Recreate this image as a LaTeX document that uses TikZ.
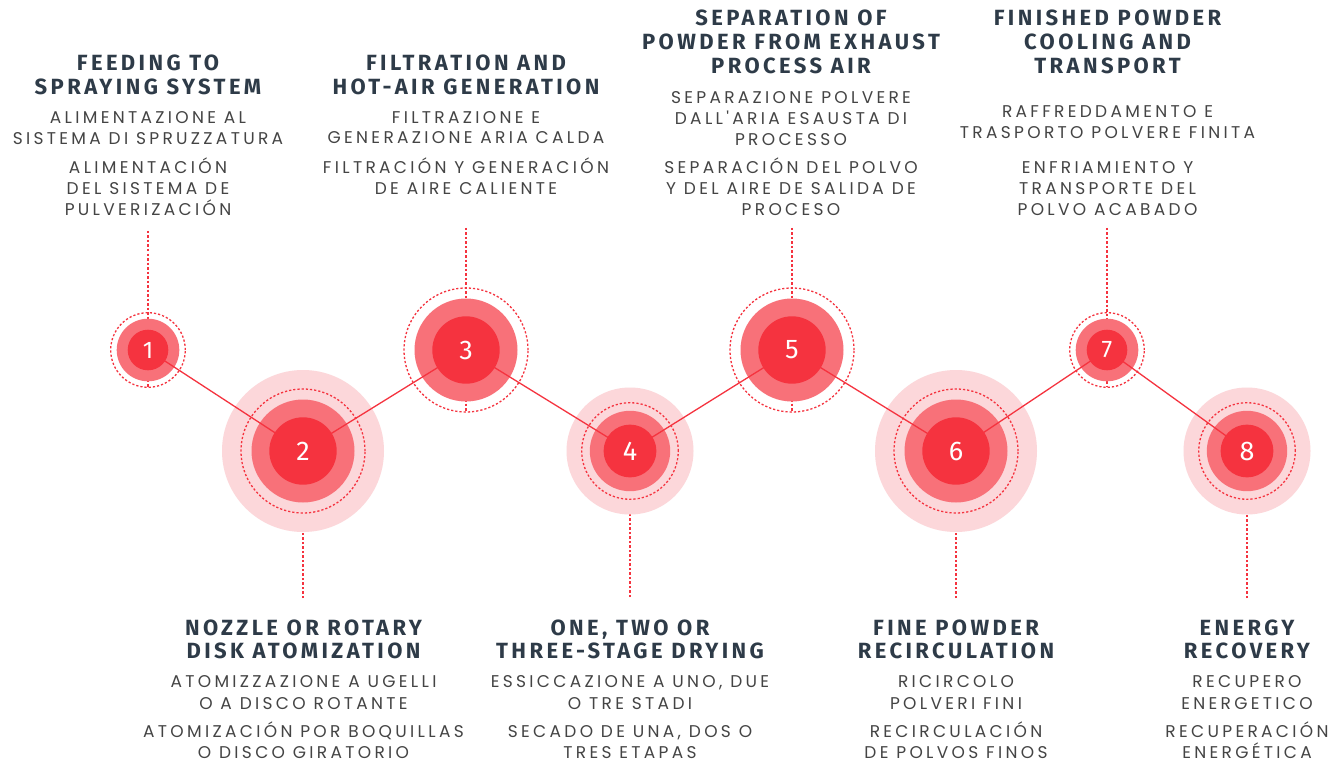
\documentclass[tikz,border=0pt]{standalone}
\usepackage{fontspec}
\setmainfont{Poppins}
\newfontfamily\headfont{Fira Sans}[LetterSpace=15.5]
\newfontfamily\subfont{Poppins}[LetterSpace=19.5]
\newfontfamily\numfont{Fira Sans}
\definecolor{redA}{HTML}{F5333F}
\definecolor{redB}{HTML}{F87179}
\definecolor{redC}{HTML}{FCD7DA}
\definecolor{headc}{HTML}{2E3B48}
\definecolor{subc}{HTML}{444444}
\newcommand\txtblock[6]{%
  \foreach \t [count=\k] in {#6} {\node[#1, anchor=base] (#2\k) at (#3,{#4+#5*(\k-1)}) {\t};}}
\tikzset{
  hd/.style={font=\headfont\bfseries\fontsize{22}{24}\selectfont, text=headc, inner sep=0pt},
  sb/.style={font=\subfont\fontsize{17}{20}\selectfont, text=subc, inner sep=0pt},
  ring/.style={draw=redA, line width=1.3pt, dash pattern=on 2.2pt off 2pt},
  vline/.style={draw=redA, line width=1.5pt, dash pattern=on 2.5pt off 2pt},
  link/.style={draw=redA, line width=1.3pt},
  numsmall/.style={circle, fill=redA, minimum size=40.6pt, inner sep=0pt, text=white, font=\numfont\fontsize{24}{24}\selectfont},
  nummid/.style={circle, fill=redA, minimum size=52.8pt, inner sep=0pt, text=white, font=\numfont\fontsize{27}{27}\selectfont},
  numbig/.style={circle, fill=redA, minimum size=67.4pt, inner sep=0pt, text=white, font=\numfont\fontsize{27}{27}\selectfont}
}
\begin{document}
\begin{tikzpicture}[x=1pt,y=-1pt]
\useasboundingbox (0,0) rectangle (1344,762);
\fill[white] (0,0) rectangle (1344,762);
% centres
\coordinate (c1) at (148,350);
\coordinate (c2) at (303,451);
\coordinate (c3) at (466,350);
\coordinate (c4) at (630,451);
\coordinate (c5) at (792,350);
\coordinate (c6) at (956,451);
\coordinate (c7) at (1107,350);
\coordinate (c8) at (1247,451);
% vertical dashed leaders
\coordinate (v1) at (148,231);
\coordinate (v3) at (466,228);
\coordinate (v5) at (792,228);
\coordinate (v7) at (1107,228);
\coordinate (v2) at (303,598);
\coordinate (v4) at (630,597);
\coordinate (v6) at (956,598);
\coordinate (v8) at (1247,598);
\path[vline] (v1) -- ([yshift=-37.3pt]c1);
\path[vline] (v3) -- ([yshift=-62pt]c3);
\path[vline] (v5) -- ([yshift=-62pt]c5);
\path[vline] (v7) -- ([yshift=-37.3pt]c7);
\path[vline] (v2) -- ([yshift=62pt]c2);
\path[vline] (v4) -- ([yshift=48.3pt]c4);
\path[vline] (v6) -- ([yshift=62pt]c6);
\path[vline] (v8) -- ([yshift=48.3pt]c8);
% outer halos
\fill[redC] (c2) circle[radius=81pt];
\fill[redC] (c6) circle[radius=81pt];
\fill[redC] (c4) circle[radius=63.5pt];
\fill[redC] (c8) circle[radius=63.5pt];
% middle discs
\fill[redB] (c1) circle[radius=31.3pt];
\fill[redB] (c7) circle[radius=31.3pt];
\fill[redB] (c2) circle[radius=51.5pt];
\fill[redB] (c3) circle[radius=51.5pt];
\fill[redB] (c5) circle[radius=51.5pt];
\fill[redB] (c6) circle[radius=51.5pt];
\fill[redB] (c4) circle[radius=40.2pt];
\fill[redB] (c8) circle[radius=40.2pt];
% dashed rings
\path[ring] (c1) circle[radius=37.3pt];
\path[ring] (c7) circle[radius=37.3pt];
\path[ring] (c2) circle[radius=62pt];
\path[ring] (c3) circle[radius=62pt];
\path[ring] (c5) circle[radius=62pt];
\path[ring] (c6) circle[radius=62pt];
\path[ring] (c4) circle[radius=48.3pt];
\path[ring] (c8) circle[radius=48.3pt];
% connectors
\path[link] (c1) -- (c2) -- (c3) -- (c4) -- (c5) -- (c6) -- (c7) -- (c8);
% numbered cores
\node[numsmall] (n1) at (c1) {1};
\node[numbig] (n2) at (c2) {2};
\node[numbig] (n3) at (c3) {3};
\node[nummid] (n4) at (c4) {4};
\node[numbig] (n5) at (c5) {5};
\node[numbig] (n6) at (c6) {6};
\node[numsmall] (n7) at (c7) {7};
\node[nummid] (n8) at (c8) {8};
% texts: column 1
\txtblock{hd}{h1-}{148}{70.7}{23.5}{FEEDING TO, SPRAYING SYSTEM}
\txtblock{sb}{i1-}{148}{124}{20.5}{ALIMENTAZIONE AL, SISTEMA DI SPRUZZATURA}
\txtblock{sb}{s1-}{148}{174}{21}{ALIMENTACIÓN, DEL SISTEMA DE, PULVERIZACIÓN}
% column 3
\txtblock{hd}{h3-}{466}{70.7}{23.5}{FILTRATION AND, HOT-AIR GENERATION}
\txtblock{sb}{i3-}{466}{123.5}{20.5}{FILTRAZIONE E, GENERAZIONE ARIA CALDA}
\txtblock{sb}{s3-}{466}{174}{21}{FILTRACIÓN Y GENERACIÓN, DE AIRE CALIENTE}
% column 5
\txtblock{hd}{h5-}{791}{25.5}{24}{SEPARATION OF, POWDER FROM EXHAUST, PROCESS AIR}
\txtblock{sb}{i5-}{791}{104}{20.8}{SEPARAZIONE POLVERE, DALL'ARIA ESAUSTA DI, PROCESSO}
\txtblock{sb}{s5-}{791}{174}{21}{SEPARACIÓN DEL POLVO, Y DEL AIRE DE SALIDA DE, PROCESO}
% column 7
\txtblock{hd}{h7-}{1107.5}{26}{23.7}{FINISHED POWDER, COOLING AND, TRANSPORT}
\txtblock{sb}{i7-}{1107.5}{118}{20.5}{RAFFREDDAMENTO E, TRASPORTO POLVERE FINITA}
\txtblock{sb}{s7-}{1107.5}{174}{21}{ENFRIAMIENTO Y, TRANSPORTE DEL, POLVO ACABADO}
% column 2
\txtblock{hd}{h2-}{303.5}{635}{23.3}{NOZZLE OR ROTARY, DISK ATOMIZATION}
\txtblock{sb}{i2-}{303.5}{687.3}{21.7}{ATOMIZZAZIONE A UGELLI, O A DISCO ROTANTE}
\txtblock{sb}{s2-}{303.5}{737.3}{21}{ATOMIZACIÓN POR BOQUILLAS, O DISCO GIRATORIO}
% column 4
\txtblock{hd}{h4-}{630}{635}{23.3}{{ONE, TWO OR}, THREE-STAGE DRYING}
\txtblock{sb}{i4-}{630}{687.3}{21.7}{{ESSICCAZIONE A UNO, DUE}, O TRE STADI}
\txtblock{sb}{s4-}{630}{737.3}{21}{{SECADO DE UNA, DOS O}, TRES ETAPAS}
% column 6
\txtblock{hd}{h6-}{956}{635}{23.3}{FINE POWDER, RECIRCULATION}
\txtblock{sb}{i6-}{956}{687.3}{21.7}{RICIRCOLO, POLVERI FINI}
\txtblock{sb}{s6-}{956}{737.3}{21}{RECIRCULACIÓN, DE POLVOS FINOS}
% column 8
\txtblock{hd}{h8-}{1247}{635}{23.3}{ENERGY, RECOVERY}
\txtblock{sb}{i8-}{1247}{687.3}{21.7}{RECUPERO, ENERGETICO}
\txtblock{sb}{s8-}{1247}{737.3}{21}{RECUPERACIÓN, ENERGÉTICA}
\end{tikzpicture}
\end{document}
